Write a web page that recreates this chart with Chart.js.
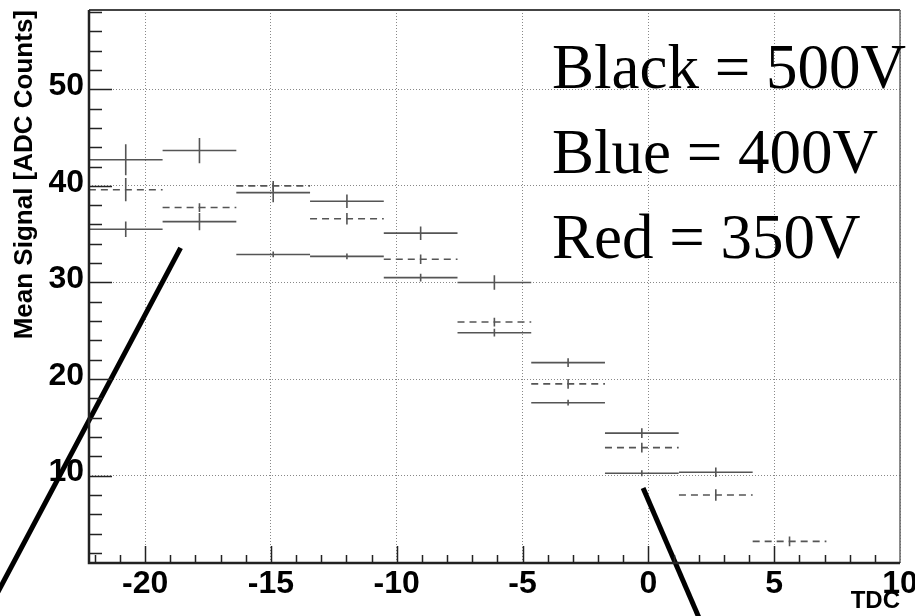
<!DOCTYPE html>
<html>
<head>
<meta charset="utf-8">
<script src="https://cdn.jsdelivr.net/npm/chart.js@4/dist/chart.umd.min.js"></script>
<style>
  html, body { margin: 0; padding: 0; background: #fff; }
  #wrap { width: 915px; height: 616px; }
</style>
</head>
<body>
<div id="wrap"><canvas id="chart" width="915" height="616"></canvas></div>
<script>
// bin centres along TDC and half bin width (TDC units)
const binCenters = [-20.77, -17.84, -14.91, -11.98, -9.05, -6.12, -3.19, -0.26, 2.68, 5.61];
const binHalfWidth = 1.465;

// upper solid series
const upperVals = [42.7, 43.65, 39.3, 38.4, 35.1, 30.0, 21.7, 14.4, 10.35];
const upperErr  = [1.6, 1.3, 1.0, 0.7, 0.7, 0.75, 0.45, 0.5, 0.5];
// dashed series
const dashedVals = [39.6, 37.75, 40.0, 36.6, 32.4, 25.9, 19.5, 12.9, 8.0, 3.2];
const dashedErr  = [1.2, 0.45, 0.5, 0.6, 0.5, 0.45, 0.5, 0.5, 0.6, 0.5];
// lower solid series
const lowerVals = [35.5, 36.3, 32.9, 32.7, 30.5, 24.8, 17.55, 10.25];
const lowerErr  = [0.8, 0.9, 0.3, 0.3, 0.4, 0.4, 0.3, 0.3];

// axis ticks
const xTickValues = [-20, -15, -10, -5, 0, 5, 10];
const yTickValues = [10, 20, 30, 40, 50];
const xRange = [-22.23, 10];
const yRange = [0.96, 58.2];

// annotation text and the two pointer strokes (in data units)
const legendLines = ['Black = 500V', 'Blue = 400V', 'Red = 350V'];
const pointerA = [{x: -18.59, y: 33.57}, {x: -25.85, y: -2.04}];
const pointerB = [{x: -0.21, y: 8.73}, {x: 2.05, y: -4.94}];

function binLines(vals) {
  const pts = [];
  vals.forEach((v, i) => {
    pts.push({x: binCenters[i] - binHalfWidth, y: v});
    pts.push({x: binCenters[i] + binHalfWidth, y: v});
    pts.push({x: binCenters[i], y: null});
  });
  return pts;
}

function errLines(vals, errs) {
  const pts = [];
  vals.forEach((v, i) => {
    pts.push({x: binCenters[i], y: v - errs[i]});
    pts.push({x: binCenters[i], y: v + errs[i]});
    pts.push({x: binCenters[i], y: null});
  });
  return pts;
}

const markColor = '#555';
function seg(data, dash) {
  return {
    data: data,
    borderColor: markColor,
    borderWidth: 1.6,
    borderDash: dash || [],
    pointRadius: 0,
    fill: false,
    tension: 0,
    spanGaps: false
  };
}
function pointer(data) {
  return {
    data: data,
    borderColor: '#000',
    borderWidth: 5,
    borderCapStyle: 'butt',
    pointRadius: 0,
    fill: false,
    clip: false
  };
}

const frameTicks = {
  id: 'frameTicks',
  afterDraw(chart) {
    const {ctx, chartArea: a, scales: {x, y}} = chart;
    ctx.save();
    // inward ticks
    ctx.strokeStyle = '#222';
    ctx.lineWidth = 1.5;
    ctx.beginPath();
    for (let v = Math.ceil(x.min); v <= x.max - 0.5; v++) {
      const px = Math.round(x.getPixelForValue(v)) + 0.5;
      const len = v % 5 === 0 ? 17 : 8;
      ctx.moveTo(px, a.bottom);
      ctx.lineTo(px, a.bottom - len);
    }
    for (let v = 2; v <= y.max; v += 2) {
      const py = Math.round(y.getPixelForValue(v)) + 0.5;
      const len = v % 10 === 0 ? 23 : 13;
      ctx.moveTo(a.left, py);
      ctx.lineTo(a.left + len, py);
    }
    ctx.stroke();

    // frame
    ctx.lineWidth = 2;
    ctx.strokeStyle = '#444';
    ctx.beginPath();
    ctx.moveTo(a.left, a.top);
    ctx.lineTo(a.right, a.top);
    ctx.stroke();
    ctx.strokeStyle = '#666';
    ctx.lineWidth = 1.5;
    ctx.beginPath();
    ctx.moveTo(a.right, a.top);
    ctx.lineTo(a.right, a.bottom);
    ctx.stroke();
    ctx.strokeStyle = '#222';
    ctx.lineWidth = 2.5;
    ctx.beginPath();
    ctx.moveTo(a.left, a.top);
    ctx.lineTo(a.left, a.bottom);
    ctx.lineTo(a.right, a.bottom);
    ctx.stroke();

    // voltage key
    ctx.fillStyle = '#000';
    ctx.font = '63px "Liberation Serif", "Times New Roman", serif';
    ctx.textAlign = 'left';
    ctx.textBaseline = 'alphabetic';
    legendLines.forEach((t, i) => ctx.fillText(t, 552, 88 + i * 85));
    ctx.restore();
  }
};

const tickFont = {family: '"Liberation Sans", Arial, sans-serif', weight: 'bold', size: 32};

new Chart(document.getElementById('chart'), {
  type: 'line',
  data: {
    datasets: [
      seg(binLines(upperVals)),
      seg(errLines(upperVals, upperErr)),
      seg(binLines(dashedVals), [7, 5]),
      seg(errLines(dashedVals, dashedErr)),
      seg(binLines(lowerVals)),
      seg(errLines(lowerVals, lowerErr)),
      pointer(pointerA),
      pointer(pointerB)
    ]
  },
  options: {
    responsive: false,
    animation: false,
    devicePixelRatio: 1,
    layout: { padding: { top: 10, right: 15, left: 0, bottom: 0 } },
    plugins: { legend: { display: false }, tooltip: { enabled: false } },
    scales: {
      x: {
        type: 'linear',
        min: xRange[0],
        max: xRange[1],
        afterBuildTicks: s => { s.ticks = xTickValues.map(v => ({value: v})); },
        afterFit: s => { s.height = 53; s.paddingLeft = s.paddingRight = 0; },
        grid: { color: '#888', lineWidth: 1, drawTicks: false },
        border: { display: false, dash: [1, 2] },
        ticks: { font: tickFont, color: '#000', padding: 2, maxRotation: 0, autoSkip: false },
        title: {
          display: true, text: 'TDC', align: 'end', color: '#000',
          font: {family: '"Liberation Sans", Arial, sans-serif', weight: 'bold', size: 24},
          padding: { top: 0, bottom: 0 }
        }
      },
      y: {
        type: 'linear',
        min: yRange[0],
        max: yRange[1],
        afterBuildTicks: s => { s.ticks = yTickValues.map(v => ({value: v})); },
        afterFit: s => { s.width = 89; s.paddingTop = s.paddingBottom = 0; },
        grid: { color: '#888', lineWidth: 1, drawTicks: false },
        border: { display: false, dash: [1, 2] },
        ticks: { font: tickFont, color: '#000', padding: 5, labelOffset: -3, autoSkip: false },
        title: {
          display: true, text: 'Mean Signal [ADC Counts]', align: 'end', color: '#000',
          font: {family: '"Liberation Sans", Arial, sans-serif', weight: 'bold', size: 26},
          padding: { top: 9, bottom: 0 }
        }
      }
    }
  },
  plugins: [frameTicks]
});
</script>
</body>
</html>
